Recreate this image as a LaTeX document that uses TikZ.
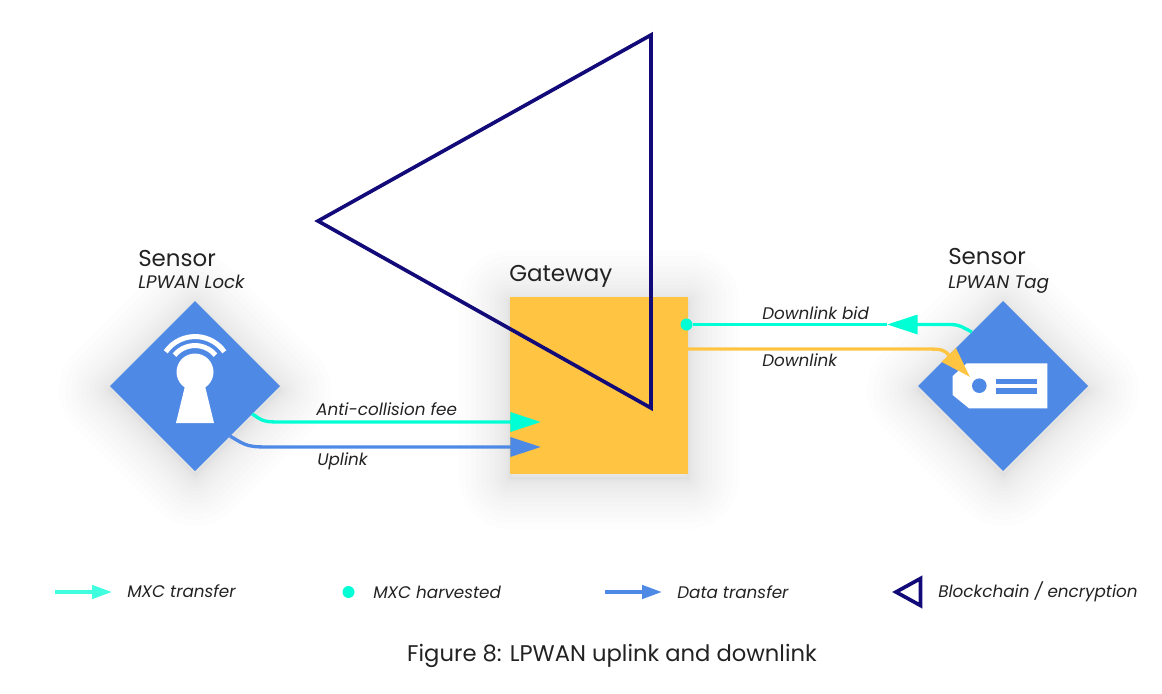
\documentclass[tikz,border=0pt]{standalone}
\usepackage{fontspec}
\setmainfont{Poppins}
\usepackage{tikz}
\usetikzlibrary{backgrounds}
\usetikzlibrary{shapes.geometric,arrows.meta}
\definecolor{sensorblue}{HTML}{4F89E6}
\definecolor{mxcmint}{HTML}{00FFD5}
\definecolor{gateyellow}{HTML}{FFC542}
\definecolor{chainnavy}{HTML}{110A78}
\definecolor{inkgray}{HTML}{222222}
\tikzstyle{sensorNode}=[diamond, aspect=1, fill=sensorblue, minimum width=127.5pt, minimum height=127.5pt, inner sep=0pt, outer sep=0pt]
\tikzstyle{gatewayNode}=[rectangle, fill=gateyellow, minimum width=133.5pt, minimum height=132.75pt, inner sep=0pt, outer sep=0pt]
\tikzstyle{harvestDot}=[circle, fill=mxcmint, minimum size=9pt, inner sep=0pt, outer sep=0pt]
\tikzstyle{titleText}=[anchor=base west, inner sep=0pt, text=inkgray, font=\fontsize{17.2}{20}\selectfont]
\tikzstyle{kindText}=[anchor=base west, inner sep=0pt, text=inkgray, font=\fontsize{13.6}{16}\selectfont\itshape]
\tikzstyle{noteText}=[anchor=base west, inner sep=0pt, text=inkgray, font=\fontsize{12.6}{15}\selectfont\itshape]
\tikzstyle{captionText}=[anchor=base, inner sep=0pt, text=inkgray, font=\fontsize{17}{20}\selectfont]
\tikzstyle{mintLine}=[draw=mxcmint, line width=2.5pt]
\tikzstyle{blueLine}=[draw=sensorblue, line width=2.5pt]
\tikzstyle{yellowLine}=[draw=gateyellow, line width=2.5pt]
\tikzstyle{chainLine}=[draw=chainnavy, line width=2.75pt, line join=miter]
\tikzstyle{softEdge}=[draw=black, opacity=0.006, line join=round]
\tikzset{bigTip/.style={-{Triangle[length=23pt,width=14.25pt]}}}
\tikzset{smallTip/.style={-{Triangle[length=15pt,width=10pt]}}}

\begin{document}
\begin{tikzpicture}[x=0.75pt,y=-0.75pt]
\useasboundingbox (0,0) rectangle (1162,693);
\node (lockSensor) [sensorNode] at (195,386) {};
\node (tagSensor) [sensorNode] at (1003,386) {};
\node (gateway) [gatewayNode] at (599,385.5) {};

\path (lockSensor.north)+(-57,-35) node (lockTitle) [titleText] {Sensor};
\path (lockSensor.north)+(-57,-12.5) node (lockNote) [kindText] {LPWAN Lock};
\path (tagSensor.north)+(-55,-37) node (tagTitle) [titleText] {Sensor};
\path (tagSensor.north)+(-55,-13) node (tagNote) [kindText] {LPWAN Tag};
\path (gateway.north west)+(-1,-16) node (gatewayTitle) [titleText] {Gateway};

\path (gateway.west)+(31,36.5) coordinate (feeTip);
\path (gateway.west)+(31,61.5) coordinate (uplinkTip);
\path (gateway.east)+(-1.5,-61) node (bidDot) [harvestDot] {};
\path (tagSensor.west)+(52,-9) coordinate (downTip);
\coordinate (feeBend) at (285,422);
\coordinate (uplinkBend) at (275,447);
\coordinate (bidBend) at (945,324.5);
\coordinate (bidTip) at (887,324.5);
\coordinate (downBend) at (920,349);
\coordinate (chainTop) at (651,35);
\coordinate (chainLeft) at (318,221);
\coordinate (chainBottom) at (651,408);

\draw[white, line width=3.75pt] (165.7,351.8) arc[start angle=145, end angle=35, radius=26.85pt];
\draw[white, line width=3.75pt] (174.5,355.1) arc[start angle=140, end angle=40, radius=20.1pt];
\fill[white] (195,372) circle (18.5);
\fill[white] (185,386) -- (205,386) -- (214,423) -- (176,423) -- cycle;

\fill[white] (966.7,363.3) -- (1047.3,363.3) -- (1047.3,408.3) -- (969,408.3) -- (952.7,395) -- (952.7,376) -- cycle;
\fill[sensorblue] (979.3,385.7) circle (7.3);
\fill[sensorblue] (995.7,379) rectangle (1036.7,384.3);
\fill[sensorblue] (995.7,388.3) rectangle (1036.7,393.7);

\draw[chainLine] (chainTop) -- (chainLeft) -- (chainBottom) -- cycle;

\draw[mintLine, bigTip] (lockSensor.-26) .. controls (264,422) .. (feeBend) -- (feeTip);
\draw[blueLine, bigTip] (lockSensor.-55.5) .. controls (248,447) .. (uplinkBend) -- (uplinkTip);
\draw[mintLine, bigTip] (tagSensor.120) .. controls (958,324.5) .. (bidBend) -- (bidTip);
\draw[mintLine] (bidTip) -- (bidDot);
\draw[yellowLine, bigTip] (gateway.east |- downBend) -- (downBend) .. controls (943,349) .. (downTip);

\path (feeBend)+(31,-7) node (feeLabel) [noteText] {Anti-collision fee};
\path (uplinkBend)+(42,18) node (uplinkLabel) [noteText] {Uplink};
\path (bidTip)+(-125,-5) node (bidLabel) [noteText] {Downlink bid};
\path (downBend)+(-158,17.5) node (downLabel) [noteText] {Downlink};

\coordinate (legMxcFrom) at (55,592);
\coordinate (legMxcTo) at (112,592);
\coordinate (legDataFrom) at (605,592);
\coordinate (legDataTo) at (662,592);
\draw[draw=mxcmint!75, line width=2.75pt, smallTip] (legMxcFrom) -- (legMxcTo);
\draw[draw=sensorblue, line width=2.75pt, smallTip] (legDataFrom) -- (legDataTo);
\node (legHarvest) [harvestDot] at (348.5,592) {};
\draw[chainLine] (920.5,578.5) -- (896,592) -- (920.5,605.5) -- cycle;
\node (legMxcText) [noteText] at (127,597) {MXC transfer};
\node (legHarvestText) [noteText] at (373,598) {MXC harvested};
\node (legDataText) [noteText] at (677,598) {Data transfer};
\node (legChainText) [noteText] at (938,597) {Blockchain / encryption};
\node (caption) [captionText] at (612,661) {Figure 8: LPWAN uplink and downlink};

\begin{scope}[on background layer]
\foreach \i in {1,...,16} {
\pgfmathsetmacro{\w}{0.3*\i*\i}
\draw[softEdge, line width=\w pt] ([yshift=-3pt]lockSensor.north) -- ([yshift=-3pt]lockSensor.east) -- ([yshift=-3pt]lockSensor.south) -- ([yshift=-3pt]lockSensor.west) -- cycle;
\draw[softEdge, line width=\w pt] ([yshift=-3pt]tagSensor.north) -- ([yshift=-3pt]tagSensor.east) -- ([yshift=-3pt]tagSensor.south) -- ([yshift=-3pt]tagSensor.west) -- cycle;
\draw[softEdge, line width=\w pt] ([yshift=-3pt]gateway.north west) -- ([yshift=-3pt]gateway.north east) -- ([yshift=-3pt]gateway.south east) -- ([yshift=-3pt]gateway.south west) -- cycle;
}
\end{scope}
\end{tikzpicture}
\end{document}
